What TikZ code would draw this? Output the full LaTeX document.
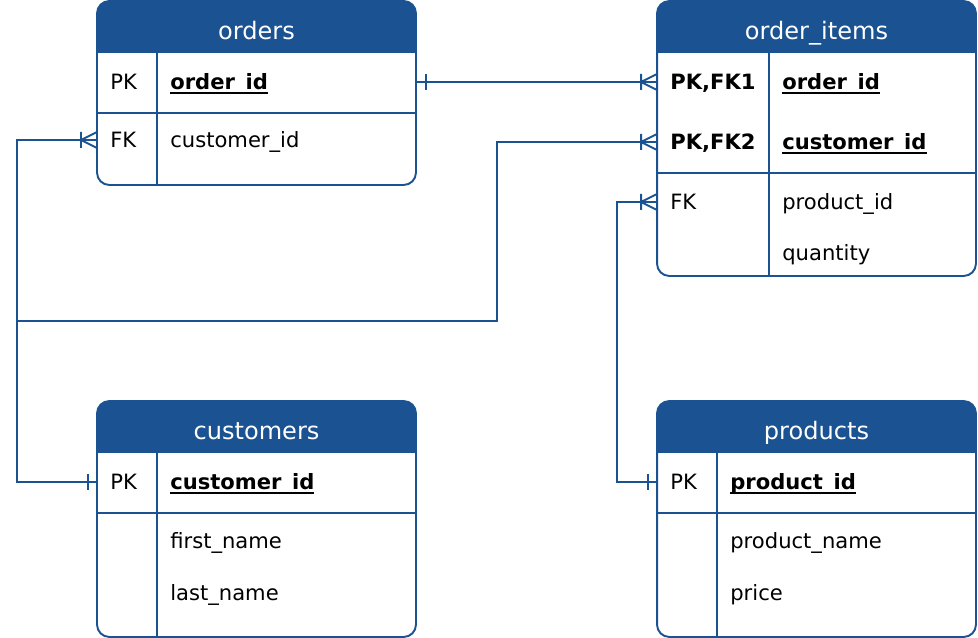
\documentclass[tikz,border=0pt]{standalone}
\usepackage{fontspec}
\setmainfont{DejaVu Sans}
\usepackage{tikz}
\usetikzlibrary{
    calc                              % ($(a)+(1,0)$)
}
\definecolor{entblue}{RGB}{27,82,145}
% thick underline for key columns
\newcommand{\keyul}[1]{%
    \setbox0\hbox{#1}\rlap{\raisebox{-2.1pt}{\rule{\wd0}{1.05pt}}}\box0}
\tikzset{
    entity/.style={
        draw=entblue, line width=1.1pt, rounded corners=7pt,
        minimum width=6.38cm, inner sep=0pt, outer sep=0pt
    },
    tabline/.style={
        draw=entblue, line width=1.1pt
    },
    relline/.style={
        draw=entblue, line width=1.1pt
    },
    headtxt/.style={
        text=white, inner sep=0pt, yshift=-1.6pt,
        font=\fontsize{13.7}{16}\selectfont,
        text height=.72em, text depth=0pt
    },
    keytxt/.style={
        anchor=west, inner sep=0pt,
        font=\fontsize{12}{14}\selectfont,
        text height=.9em, text depth=0pt
    },
    fldtxt/.style={
        keytxt
    },
    crow/.pic={
        \draw[relline] (-16,-8) -- (-16,8) (0,-8) -- (-16,0) -- (0,8);
    },
    onebar/.pic={
        \draw[relline] (0,-8) -- (0,8);
    }
}

\begin{document}
\begin{tikzpicture}[x=0.02cm, y=-0.02cm]
    \useasboundingbox (0,0) rectangle (978,638);

    % orders
    \node[entity, minimum height=3.68cm] (orders) at (256.5,93) {};
    \begin{scope}
        \clip[rounded corners=7pt] (orders.north west) rectangle (orders.south east);
        \fill[entblue] (orders.north west) rectangle ($(orders.north east)+(0,52)$);
    \end{scope}
    \draw[tabline] (97,113) -- (416,113) (157,53) -- (157,185);
    \node[headtxt] (ordersT) at (256.5,30) {orders};
    \node[keytxt] (ordPK) at (110,82) {PK};
    \node[fldtxt] (ordId) at (170,82) {\keyul{\textbf{order\_id}}};
    \node[keytxt] (ordFK) at (110,140) {FK};
    \node[fldtxt] (ordCust) at (170,140) {customer\_id};

    % order_items
    \node[entity, minimum height=5.5cm] (items) at (816.5,138.5) {};
    \begin{scope}
        \clip[rounded corners=7pt] (items.north west) rectangle (items.south east);
        \fill[entblue] (items.north west) rectangle ($(items.north east)+(0,52)$);
    \end{scope}
    \draw[tabline] (657,173) -- (976,173) (769,53) -- (769,276);
    \node[headtxt] (itemsT) at (816.5,30) {order\_items};
    \node[keytxt] (oiPK1) at (670,82) {\textbf{PK,FK1}};
    \node[fldtxt] (oiOrd) at (782,82) {\keyul{\textbf{order\_id}}};
    \node[keytxt] (oiPK2) at (670,142) {\textbf{PK,FK2}};
    \node[fldtxt] (oiCust) at (782,142) {\keyul{\textbf{customer\_id}}};
    \node[keytxt] (oiFK) at (670,202) {FK};
    \node[fldtxt] (oiProd) at (782,202) {product\_id};
    \node[fldtxt] (oiQty) at (782,253) {quantity};

    % customers
    \node[entity, minimum height=4.72cm] (customers) at (256.5,519) {};
    \begin{scope}
        \clip[rounded corners=7pt] (customers.north west) rectangle (customers.south east);
        \fill[entblue] (customers.north west) rectangle ($(customers.north east)+(0,52)$);
    \end{scope}
    \draw[tabline] (97,513) -- (416,513) (157,453) -- (157,637);
    \node[headtxt] (customersT) at (256.5,430) {customers};
    \node[keytxt] (custPK) at (110,482) {PK};
    \node[fldtxt] (custId) at (170,482) {\keyul{\textbf{customer\_id}}};
    \node[fldtxt] (custFirst) at (170,541) {first\_name};
    \node[fldtxt] (custLast) at (170,593) {last\_name};

    % products
    \node[entity, minimum height=4.72cm] (products) at (816.5,519) {};
    \begin{scope}
        \clip[rounded corners=7pt] (products.north west) rectangle (products.south east);
        \fill[entblue] (products.north west) rectangle ($(products.north east)+(0,52)$);
    \end{scope}
    \draw[tabline] (657,513) -- (976,513) (717,453) -- (717,637);
    \node[headtxt] (productsT) at (816.5,430) {products};
    \node[keytxt] (prodPK) at (670,482) {PK};
    \node[fldtxt] (prodId) at (730,482) {\keyul{\textbf{product\_id}}};
    \node[fldtxt] (prodName) at (730,541) {product\_name};
    \node[fldtxt] (prodPrice) at (730,593) {price};

    % relations
    \coordinate (busL) at (17,321);
    \coordinate (busM) at (497,321);
    \coordinate (busR) at (617,340);

    \draw[relline] (orders.east |- ordPK) -- (items.west |- oiPK1);
    \draw[relline] (orders.west |- ordFK) -| (busL) |- (customers.west |- custPK);
    \draw[relline] (items.west |- oiPK2) -| (busM) -- (busL);
    \draw[relline] (items.west |- oiFK) -| (busR) |- (products.west |- prodPK);

    \pic at ($(orders.east |- ordPK)+(10,0)$) {onebar};
    \pic at (items.west |- oiPK1) {crow};
    \pic at (orders.west |- ordFK) {crow};
    \pic at (items.west |- oiPK2) {crow};
    \pic at (items.west |- oiFK) {crow};
    \pic at ($(customers.west |- custPK)+(-9,0)$) {onebar};
    \pic at ($(products.west |- prodPK)+(-9,0)$) {onebar};
\end{tikzpicture}
\end{document}
